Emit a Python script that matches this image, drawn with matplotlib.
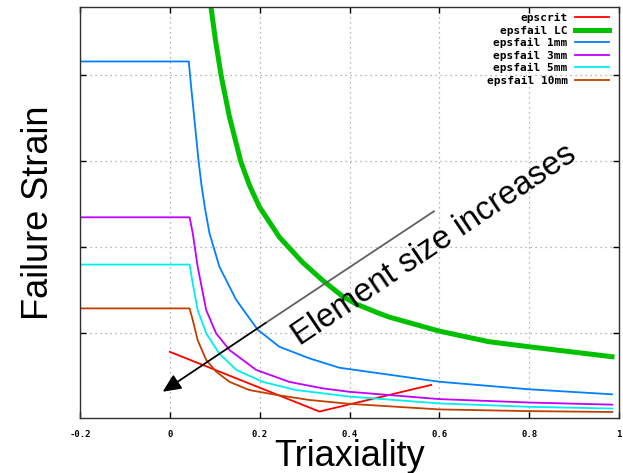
import matplotlib
matplotlib.use("Agg")
import matplotlib.pyplot as plt
import numpy as np

# epscrit
crit_x = [0.0, 0.333, 0.582]
crit_y = [0.157, 0.018, 0.080]

# epsfail LC
lc_x = [0.0916, 0.1016, 0.1142, 0.1327, 0.1582, 0.1771, 0.1993, 0.2438, 0.2949, 0.3393,
        0.3838, 0.4149, 0.4660, 0.4882, 0.5993, 0.7104, 0.7993, 0.9844]
lc_y = [0.9595, 0.8821, 0.8000, 0.7037, 0.5991, 0.5449, 0.4944, 0.4240, 0.3658, 0.3240,
        0.2867, 0.2681, 0.2465, 0.2379, 0.2053, 0.1805, 0.1688, 0.1456]

# epsfail 1mm
m1_x = [-0.2, 0.0422, 0.0471, 0.0527, 0.0582, 0.0638, 0.0704, 0.0782, 0.0882, 0.1104,
        0.1476, 0.1956, 0.2438, 0.3104, 0.3771, 0.4660, 0.5993, 0.7993, 0.9844]
m1_y = [0.8326, 0.8326, 0.7774, 0.7193, 0.6612, 0.6030, 0.5449, 0.4914, 0.4333, 0.3549,
        0.2781, 0.2084, 0.1688, 0.1419, 0.1200, 0.1070, 0.0874, 0.0698, 0.0581]

# epsfail 3mm
m3_x = [-0.2, 0.044, 0.051, 0.062, 0.081, 0.103, 0.133, 0.192, 0.266, 0.340, 0.399,
        0.599, 0.799, 0.985]
m3_y = [0.470, 0.470, 0.433, 0.355, 0.254, 0.200, 0.161, 0.115, 0.087, 0.072, 0.064,
        0.047, 0.039, 0.034]

# epsfail 5mm
m5_x = [-0.2, 0.044, 0.051, 0.062, 0.081, 0.110, 0.148, 0.207, 0.281, 0.399, 0.599,
        0.799, 0.985]
m5_y = [0.360, 0.360, 0.316, 0.254, 0.200, 0.153, 0.115, 0.087, 0.068, 0.053, 0.037,
        0.029, 0.025]

# epsfail 10mm
m10_x = [-0.2, 0.044, 0.051, 0.062, 0.081, 0.103, 0.133, 0.177, 0.236, 0.310, 0.399,
         0.599, 0.799, 0.985]
m10_y = [0.258, 0.258, 0.231, 0.184, 0.138, 0.111, 0.087, 0.068, 0.057, 0.045, 0.036,
         0.023, 0.019, 0.017]

xticks = [-0.2, 0, 0.2, 0.4, 0.6, 0.8, 1]
xtick_labels = ["-0.2", "0", "0.2", "0.4", "0.6", "0.8", "1"]
yticks = [0.2, 0.4, 0.6, 0.8]

fig = plt.figure(figsize=(6.23, 4.73), dpi=100)
ax = fig.add_axes([0.1284, 0.1163, 0.8652, 0.8695])

ax.plot(crit_x, crit_y, color="#ff0000", lw=1.3, label="epscrit")
ax.plot(lc_x, lc_y, color="#00c000", lw=3.6, label="epsfail LC")
ax.plot(m1_x, m1_y, color="#0080ff", lw=1.3, label="epsfail 1mm")
ax.plot(m3_x, m3_y, color="#c000ff", lw=1.3, label="epsfail 3mm")
ax.plot(m5_x, m5_y, color="#00eeee", lw=1.3, label="epsfail 5mm")
ax.plot(m10_x, m10_y, color="#c04000", lw=1.3, label="epsfail 10mm")

ax.set_xlim(-0.2, 1.0)
ax.set_ylim(0.003, 0.96)
ax.set_xticks(xticks)
ax.set_xticklabels(xtick_labels, family="DejaVu Sans Mono", fontweight="bold", fontsize=6.5)
ax.set_yticks(yticks)
ax.set_yticklabels([])
ax.tick_params(direction="in", length=4, width=1, top=True, right=True, pad=9)
ax.grid(True, color="#a0a0a0", linestyle=(0, (1, 3)), linewidth=0.9)
for s in ax.spines.values():
    s.set_color("#303030")
    s.set_linewidth(1.0)

ax.set_xlabel("Triaxiality", family="Liberation Sans", fontsize=26, labelpad=0)
ax.set_ylabel("Failure Strain", family="Liberation Sans", fontsize=26, labelpad=8)

# annotation arrow: gray upper part, black lower part with head
ax.plot([0.588, 0.213], [0.484, 0.224], color="#606060", lw=1.3)
ax.annotate("", xy=(-0.016, 0.064), xytext=(0.213, 0.224),
            arrowprops=dict(arrowstyle="-|>,head_length=1.1,head_width=0.5",
                            color="black", lw=1.3, shrinkA=0, shrinkB=0))
ax.text(0.588, 0.405, "Element size increases", family="Liberation Sans", fontsize=23.5,
        rotation=34, rotation_mode="anchor", ha="center", va="center")

leg = ax.legend(loc="upper right", bbox_to_anchor=(0.981, 0.985), frameon=False,
                markerfirst=False, handlelength=3.0, handletextpad=0.7,
                labelspacing=0.23, borderaxespad=0, borderpad=0,
                prop={"family": "DejaVu Sans Mono", "weight": "bold", "size": 8})

fig.savefig("out.png", dpi=100)
